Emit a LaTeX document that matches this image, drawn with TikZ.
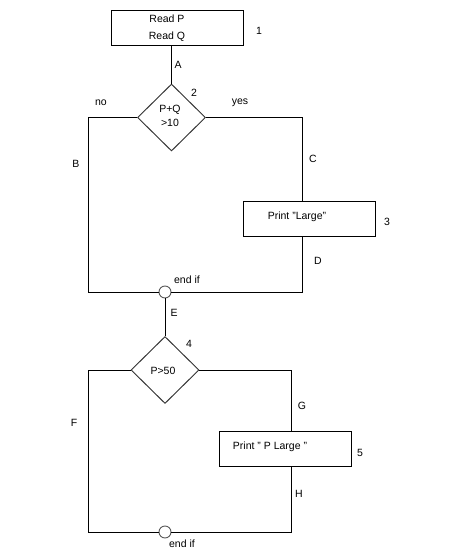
\documentclass[tikz,border=0pt]{standalone}
\usepackage{fontspec}
\setmainfont{Liberation Sans}
\usetikzlibrary{shapes.geometric,positioning}
\tikzset{
  flowln/.style={line width=0.95pt, black},
  boxnd/.style={draw, line width=0.95pt, rectangle, inner sep=0pt, minimum width=132pt, minimum height=35pt},
  decnd/.style={draw=black!80, line width=0.95pt, diamond, inner sep=0pt, minimum width=68pt, minimum height=67pt},
  joinnd/.style={draw=black!65, fill=white, circle, line width=0.9pt, minimum size=12pt, inner sep=0pt},
  lbl/.style={font=\fontsize{10.5}{17.5}\selectfont, inner sep=0pt, align=center},
}

\begin{document}
\begin{tikzpicture}[x=1pt, y=-1pt]
  \useasboundingbox (0,0) rectangle (470,559);
  % first decision
  \node[boxnd] (read) at (177.5,27.5) {};
  \node[lbl] (readtx) at (167,28) {Read P\\Read Q};
  \node[decnd] (ifsum) at (171.5,117.5) {};
  \node[lbl, font=\fontsize{10.5}{14}\selectfont] (ifsumtx) at (170,115.5) {P+Q\\>10};
  \node[boxnd] (large) at (309,219) {};
  \node[lbl] (largetx) at (297,217) {Print "Large"};
  \node[joinnd] (endA) at (165,292) {};
  \coordinate (nocornerA) at (88,116);
  \coordinate (yescornerA) at (302,118);
  \draw[flowln] (read.south -| ifsum.north) -- (ifsum.north);
  \draw[flowln] (ifsum.west) -- (ifsum.west -| nocornerA) |- (endA.west);
  \draw[flowln] (ifsum.east) -- (ifsum.east -| yescornerA) -- (yescornerA |- large.north);
  \draw[flowln] (yescornerA |- large.south) |- (endA.east);
  % second decision
  \node[decnd] (ifp) at (165,370) {};
  \node[lbl] (ifptx) at (163,371) {P>50};
  \node[boxnd] (plarge) at (285.5,448.5) {};
  \node[lbl] (plargetx) at (270,447) {Print " P Large "};
  \node[joinnd] (endB) at (165,532) {};
  \coordinate (nocornerB) at (88,369);
  \coordinate (yescornerB) at (291,371);
  \draw[flowln] (endA.south) -- (ifp.north);
  \draw[flowln] (ifp.west) -- (ifp.west -| nocornerB) |- (endB.west);
  \draw[flowln] (ifp.east) -- (ifp.east -| yescornerB) -- (yescornerB |- plarge.north);
  \draw[flowln] (yescornerB |- plarge.south) |- (endB.east);
  % connector letters and step numbers
  \node[lbl] (labA) at (178,65) {A};
  \node[lbl] (labB) at (76,164) {B};
  \node[lbl] (labC) at (313,159) {C};
  \node[lbl] (labD) at (318,261) {D};
  \node[lbl] (labE) at (174,313) {E};
  \node[lbl] (labF) at (74,423) {F};
  \node[lbl] (labG) at (302,406) {G};
  \node[lbl] (labH) at (299,494) {H};
  \node[lbl] (num1) at (259,31) {1};
  \node[lbl] (num2) at (194,93) {2};
  \node[lbl] (num3) at (387,222) {3};
  \node[lbl] (num4) at (189,344) {4};
  \node[lbl] (num5) at (360,453) {5};
  \node[lbl] (labno) at (101,103) {no};
  \node[lbl] (labyes) at (240,103) {yes};
  \node[lbl] (endAtx) at (187,280) {end if};
  \node[lbl] (endBtx) at (182,544) {end if};
\end{tikzpicture}
\end{document}
